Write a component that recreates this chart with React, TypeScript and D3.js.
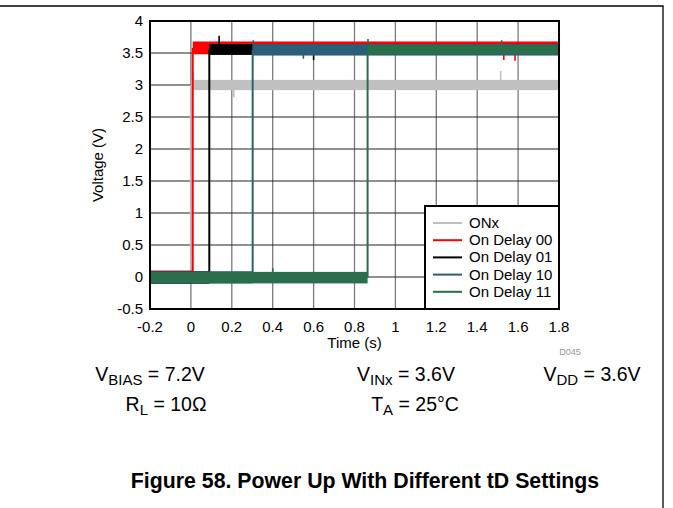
import React from "react";
import * as d3 from "d3";

// ---- data ----
const xTicks = [-0.2, 0, 0.2, 0.4, 0.6, 0.8, 1, 1.2, 1.4, 1.6, 1.8];
const yTicks = [-0.5, 0, 0.5, 1, 1.5, 2, 2.5, 3, 3.5, 4];

const seriesNames = ["ONx", "On Delay 00", "On Delay 01", "On Delay 10", "On Delay 11"];
const seriesColors = ["#c0c0c0", "#ff0000", "#000000", "#2b5f78", "#2a6e4c"];
// rise time (s) of each trace
const riseTimes = [0.0, 0.009, 0.09, 0.302, 0.864];
// noise envelope of the low level (V)
const lowMin = [-0.02, -0.1, -0.105, -0.1, -0.1];
const lowMax = [0.1, 0.1, 0.09, 0.09, 0.08];
// noise envelope of the high level (V)
const highMin = [2.92, 3.48, 3.47, 3.46, 3.48];
const highMax = [3.08, 3.68, 3.64, 3.64, 3.63];
// isolated spikes: series index, time, peak value
const spikeSeries = [0, 0, 0, 1, 1, 2, 2, 3, 4, 4, 4, 3];
const spikeTimes = [0.012, 0.21, 1.515, 1.53, 1.585, 0.138, 0.6, 0.305, 0.866, 1.52, 0.4, 0.55];
const spikeValues = [3.2, 2.81, 3.22, 3.39, 3.38, 3.77, 3.39, 3.7, 3.72, 3.7, 0.14, 3.41];

const annotations = [
  { main: "V", sub: "BIAS", rest: " = 7.2V", cx: 150, y: 381 },
  { main: "V", sub: "INx", rest: " = 3.6V", cx: 406, y: 381 },
  { main: "V", sub: "DD", rest: " = 3.6V", cx: 592, y: 381 },
  { main: "R", sub: "L", rest: " = 10Ω", cx: 166, y: 411 },
  { main: "T", sub: "A", rest: " = 25°C", cx: 415, y: 411 },
];

const W = 673;
const H = 508;
const left = 150, right = 559, top = 21, bottom = 309;
const font = "Liberation Sans, Arial, sans-serif";

export default function App() {
  const x = d3.scaleLinear().domain([-0.2, 1.8]).range([left, right]);
  const y = d3.scaleLinear().domain([-0.5, 4]).range([bottom, top]);
  const tEnd = 1.8;
  const tStart = -0.2;

  const traces = seriesNames.map((name, i) => {
    const rt = riseTimes[i];
    const lowMid = (lowMin[i] + lowMax[i]) / 2;
    const highMid = (highMin[i] + highMax[i]) / 2;
    return (
      <g key={name}>
        <rect
          x={x(tStart)}
          y={y(lowMax[i])}
          width={x(rt) - x(tStart)}
          height={y(lowMin[i]) - y(lowMax[i])}
          fill={seriesColors[i]}
        />
        <line
          x1={x(rt)}
          x2={x(rt)}
          y1={y(lowMid)}
          y2={y(highMid)}
          stroke={seriesColors[i]}
          strokeWidth={2}
        />
        <rect
          x={x(rt)}
          y={y(highMax[i])}
          width={x(tEnd) - x(rt)}
          height={y(highMin[i]) - y(highMax[i])}
          fill={seriesColors[i]}
        />
        {spikeSeries.map((s, k) => {
          if (s !== i) return null;
          const base = spikeTimes[k] < rt ? lowMid : highMid;
          return (
            <line
              key={k}
              x1={x(spikeTimes[k])}
              x2={x(spikeTimes[k])}
              y1={y(base)}
              y2={y(spikeValues[k])}
              stroke={seriesColors[i]}
              strokeWidth={1.6}
            />
          );
        })}
      </g>
    );
  });

  const legendX = 425, legendY = 206, legendW = right - legendX, legendH = bottom - legendY;

  return (
    <svg
      width={W}
      height={H}
      style={{ position: "absolute", left: 0, top: 0, background: "#fff" }}
      fontFamily={font}
    >
      <rect x={0} y={0} width={W} height={H} fill="#fff" />
      {/* page frame */}
      <line x1={0} x2={663.5} y1={6} y2={6} stroke="#000" strokeWidth={1.3} />
      <line x1={663} x2={663} y1={6} y2={H} stroke="#000" strokeWidth={1.3} />

      {/* grid */}
      {xTicks.map((t) => (
        <line key={"gx" + t} x1={x(t)} x2={x(t)} y1={top} y2={bottom} stroke="#7a7a7a" strokeWidth={1.3} />
      ))}
      {yTicks.map((t) => (
        <line key={"gy" + t} x1={left} x2={right} y1={y(t)} y2={y(t)} stroke="#222" strokeWidth={1} />
      ))}

      {traces}

      {/* plot border */}
      <rect x={left} y={top} width={right - left} height={bottom - top} fill="none" stroke="#000" strokeWidth={2} />

      {/* tick labels */}
      {yTicks.map((t) => (
        <text key={"ty" + t} x={143} y={y(t) + 5} fontSize={15} textAnchor="end" fill="#000">
          {t}
        </text>
      ))}
      {xTicks.map((t) => (
        <text key={"tx" + t} x={x(t)} y={332} fontSize={15} textAnchor="middle" fill="#000">
          {t}
        </text>
      ))}
      <text x={(left + right) / 2} y={348} fontSize={15} textAnchor="middle">Time (s)</text>
      <text
        transform={`translate(103,${(top + bottom) / 2}) rotate(-90)`}
        fontSize={15}
        textAnchor="middle"
      >
        Voltage (V)
      </text>
      <text x={570} y={355} fontSize={9} textAnchor="middle" fill="#999">D045</text>

      {/* legend */}
      <rect x={legendX} y={legendY} width={legendW} height={legendH} fill="#fff" stroke="#000" strokeWidth={2} />
      {seriesNames.map((name, i) => {
        const cy = 223 + i * 17.2;
        return (
          <g key={"lg" + name}>
            <line x1={433} x2={462} y1={cy} y2={cy} stroke={seriesColors[i]} strokeWidth={2} />
            <text x={469} y={cy + 5} fontSize={15}>{name}</text>
          </g>
        );
      })}

      {/* conditions */}
      {annotations.map((a, i) => (
        <text key={"an" + i} x={a.cx} y={a.y} fontSize={19.5} textAnchor="middle">
          {a.main}
          <tspan fontSize={15} dy={4}>{a.sub}</tspan>
          <tspan dy={-4}>{a.rest}</tspan>
        </text>
      ))}

      <text x={365} y={488} fontSize={21.3} fontWeight="bold" textAnchor="middle">
        Figure 58. Power Up With Different tD Settings
      </text>
    </svg>
  );
}
